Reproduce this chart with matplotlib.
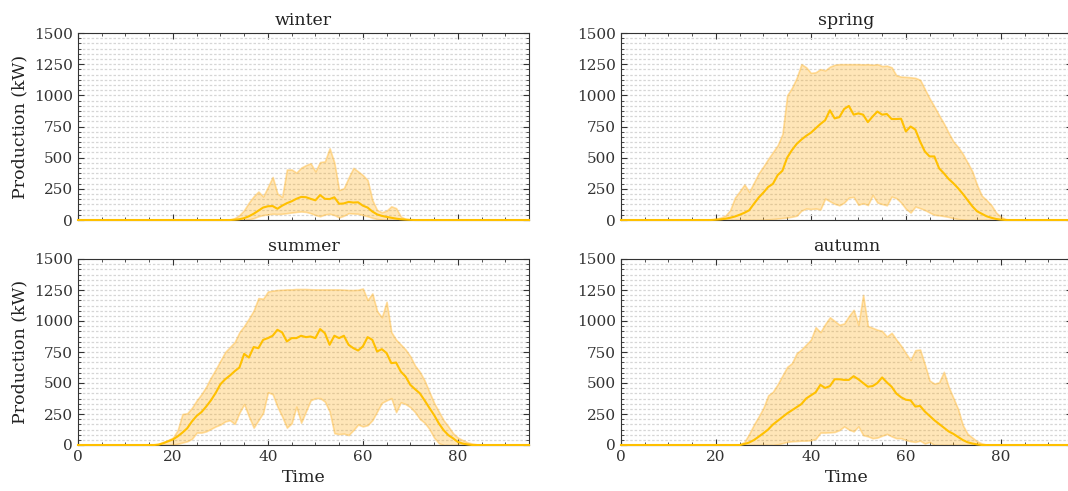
import matplotlib
matplotlib.use('Agg')
import numpy as np
import matplotlib.pyplot as plt
from matplotlib.ticker import MultipleLocator

# 15-minute time steps over one day
time = np.arange(96)
seasons = ['winter', 'spring', 'summer', 'autumn']

# daily production profiles (kW): min / mean / max per season
winter_max = [0, 0, 0, 0, 0, 0, 0, 0, 0, 0, 0, 0, 0, 0, 0, 0, 0, 0, 0, 0,
              0, 0, 0, 0, 0, 0, 0, 0, 0, 0, 0, 0, 3, 15, 40, 80, 140, 190, 228, 188,
              265, 345, 212, 185, 405, 405, 380, 420, 440, 455, 390, 465, 470, 575, 460, 240, 255, 340, 418, 390,
              360, 320, 160, 80, 62, 75, 110, 95, 28, 8, 2, 0, 0, 0, 0, 0, 0, 0, 0, 0,
              0, 0, 0, 0, 0, 0, 0, 0, 0, 0, 0, 0, 0, 0, 0, 0]
winter_mean = [0, 0, 0, 0, 0, 0, 0, 0, 0, 0, 0, 0, 0, 0, 0, 0, 0, 0, 0, 0,
               0, 0, 0, 0, 0, 0, 0, 0, 0, 0, 0, 0, 0, 2, 6, 15, 30, 50, 75, 100,
               110, 112, 90, 115, 135, 150, 170, 185, 183, 170, 158, 200, 170, 168, 182, 130, 133, 145, 140, 142,
               115, 100, 68, 45, 33, 25, 18, 11, 6, 3, 1, 0, 0, 0, 0, 0, 0, 0, 0, 0,
               0, 0, 0, 0, 0, 0, 0, 0, 0, 0, 0, 0, 0, 0, 0, 0]
winter_min = [0, 0, 0, 0, 0, 0, 0, 0, 0, 0, 0, 0, 0, 0, 0, 0, 0, 0, 0, 0,
              0, 0, 0, 0, 0, 0, 0, 0, 0, 0, 0, 0, 0, 0, 0, 0, 5, 15, 30, 40,
              45, 50, 48, 50, 55, 60, 65, 68, 65, 55, 40, 30, 45, 50, 40, 20, 35, 55, 52, 50,
              40, 30, 18, 8, 2, 0, 0, 0, 0, 0, 0, 0, 0, 0, 0, 0, 0, 0, 0, 0,
              0, 0, 0, 0, 0, 0, 0, 0, 0, 0, 0, 0, 0, 0, 0, 0]

spring_max = [0, 0, 0, 0, 0, 0, 0, 0, 0, 0, 0, 0, 0, 0, 0, 0, 0, 0, 0, 3,
              10, 20, 35, 80, 180, 230, 285, 225, 300, 375, 430, 490, 545, 600, 690, 1000, 1060, 1140, 1250, 1225,
              1180, 1185, 1210, 1200, 1230, 1245, 1250, 1250, 1250, 1250, 1250, 1248, 1250, 1245, 1250, 1235, 1238, 1225, 1160, 1150,
              1148, 1145, 1140, 1125, 1050, 975, 910, 840, 775, 700, 630, 585, 530, 460, 390, 280, 195, 160, 120, 60,
              25, 8, 2, 0, 0, 0, 0, 0, 0, 0, 0, 0, 0, 0, 0, 0]
spring_mean = [0, 0, 0, 0, 0, 0, 0, 0, 0, 0, 0, 0, 0, 0, 0, 0, 0, 0, 0, 0,
               2, 5, 10, 18, 28, 42, 58, 78, 130, 180, 220, 265, 290, 360, 395, 500, 560, 610, 645, 675,
               700, 735, 770, 800, 880, 815, 825, 890, 915, 845, 855, 845, 785, 830, 870, 845, 850, 810, 810, 812,
               710, 750, 725, 630, 550, 510, 510, 415, 375, 330, 295, 255, 210, 160, 110, 70, 50, 30, 18, 8,
               3, 0, 0, 0, 0, 0, 0, 0, 0, 0, 0, 0, 0, 0, 0, 0]
spring_min = [0, 0, 0, 0, 0, 0, 0, 0, 0, 0, 0, 0, 0, 0, 0, 0, 0, 0, 0, 0,
              0, 0, 0, 0, 0, 0, 0, 0, 0, 0, 2, 5, 8, 12, 16, 20, 26, 35, 75, 92,
              88, 92, 85, 172, 150, 130, 118, 140, 180, 185, 122, 135, 120, 200, 140, 128, 118, 188, 175, 140,
              90, 60, 108, 95, 80, 60, 42, 38, 32, 25, 15, 8, 3, 0, 0, 0, 0, 0, 0, 0,
              0, 0, 0, 0, 0, 0, 0, 0, 0, 0, 0, 0, 0, 0, 0, 0]

summer_max = [0, 0, 0, 0, 0, 0, 0, 0, 0, 0, 0, 0, 0, 0, 0, 0, 3, 10, 25, 40,
              60, 120, 250, 256, 300, 360, 410, 470, 545, 610, 680, 750, 790, 830, 910, 960, 1020, 1085, 1185, 1180,
              1238, 1245, 1250, 1252, 1255, 1255, 1258, 1258, 1258, 1256, 1255, 1255, 1255, 1255, 1255, 1255, 1253, 1250, 1250, 1252,
              1262, 1170, 1222, 1080, 1030, 1155, 910, 850, 810, 770, 715, 640, 590, 520, 430, 340, 270, 200, 150, 95,
              60, 40, 22, 12, 5, 0, 0, 0, 0, 0, 0, 0, 0, 0, 0, 0]
summer_mean = [0, 0, 0, 0, 0, 0, 0, 0, 0, 0, 0, 0, 0, 0, 0, 0, 0, 3, 15, 30,
               45, 70, 100, 135, 190, 235, 265, 310, 360, 420, 490, 530, 560, 595, 625, 735, 705, 790, 781, 848,
               862, 881, 929, 908, 835, 862, 862, 881, 870, 875, 862, 935, 902, 808, 881, 862, 881, 808, 781, 762,
               795, 870, 848, 754, 773, 741, 660, 665, 592, 552, 485, 450, 417, 360, 300, 242, 175, 120, 80, 54,
               25, 12, 5, 0, 0, 0, 0, 0, 0, 0, 0, 0, 0, 0, 0, 0]
summer_min = [0, 0, 0, 0, 0, 0, 0, 0, 0, 0, 0, 0, 0, 0, 0, 0, 0, 0, 0, 0,
              3, 10, 20, 30, 50, 100, 100, 110, 130, 150, 165, 190, 200, 170, 260, 330, 230, 140, 200, 260,
              425, 410, 310, 230, 140, 175, 310, 180, 270, 360, 378, 378, 350, 270, 95, 88, 92, 80, 120, 165,
              150, 160, 200, 270, 340, 360, 378, 265, 345, 330, 305, 265, 210, 180, 130, 60, 15, 0, 0, 0,
              0, 0, 0, 0, 0, 0, 0, 0, 0, 0, 0, 0, 0, 0, 0, 0]

autumn_max = [0, 0, 0, 0, 0, 0, 0, 0, 0, 0, 0, 0, 0, 0, 0, 0, 0, 0, 0, 0,
              0, 0, 0, 0, 0, 5, 25, 90, 165, 230, 300, 400, 430, 490, 560, 630, 660, 740, 770, 810,
              850, 950, 910, 975, 1030, 1000, 970, 980, 1040, 1090, 970, 1210, 960, 945, 930, 920, 875, 905, 850, 800,
              740, 685, 765, 770, 650, 520, 495, 505, 590, 470, 380, 290, 160, 90, 60, 30, 13, 3, 0, 0,
              0, 0, 0, 0, 0, 0, 0, 0, 0, 0, 0, 0, 0, 0, 0, 0]
autumn_mean = [0, 0, 0, 0, 0, 0, 0, 0, 0, 0, 0, 0, 0, 0, 0, 0, 0, 0, 0, 0,
               0, 0, 0, 0, 0, 0, 8, 20, 40, 67, 95, 125, 165, 195, 225, 255, 280, 305, 330, 375,
               400, 425, 485, 460, 475, 530, 530, 525, 525, 555, 530, 500, 470, 475, 500, 545, 505, 470, 415, 385,
               365, 360, 310, 315, 270, 235, 200, 170, 140, 110, 90, 65, 40, 22, 12, 5, 0, 0, 0, 0,
               0, 0, 0, 0, 0, 0, 0, 0, 0, 0, 0, 0, 0, 0, 0, 0]
autumn_min = [0, 0, 0, 0, 0, 0, 0, 0, 0, 0, 0, 0, 0, 0, 0, 0, 0, 0, 0, 0,
              0, 0, 0, 0, 0, 0, 0, 0, 0, 0, 0, 0, 0, 5, 15, 25, 30, 32, 35, 35,
              38, 50, 100, 100, 102, 105, 120, 150, 125, 110, 150, 80, 70, 55, 60, 75, 90, 70, 55, 55,
              40, 30, 25, 35, 12, 25, 0, 0, 0, 0, 0, 0, 0, 0, 0, 0, 0, 0, 0, 0,
              0, 0, 0, 0, 0, 0, 0, 0, 0, 0, 0, 0, 0, 0, 0, 0]

lows = [winter_min, spring_min, summer_min, autumn_min]
means = [winter_mean, spring_mean, summer_mean, autumn_mean]
highs = [winter_max, spring_max, summer_max, autumn_max]

plt.rcParams['font.family'] = 'DejaVu Serif'
plt.rcParams['axes.edgecolor'] = '#333333'

fig = plt.figure(figsize=(10.68, 4.91), dpi=100)
W, H = 1068.0, 491.0
# axes boxes in pixels: left, top, right, bottom
boxes = [(78, 33, 529, 220), (621, 33, 1072, 220),
         (78, 259, 529, 445), (621, 259, 1072, 445)]

for i, name in enumerate(seasons):
    l, t, r, b = boxes[i]
    ax = fig.add_axes([l / W, 1 - b / H, (r - l) / W, (b - t) / H])
    ax.fill_between(time, lows[i], highs[i], facecolor=(1.0, 0.65, 0.0, 0.28),
                    edgecolor=(1.0, 0.72, 0.2, 0.45), lw=1.2)
    ax.plot(time, means[i], color='#FFC000', lw=1.5, clip_on=False, zorder=3)

    ax.set_xlim(0, 95)
    ax.set_ylim(0, 1500)
    ax.xaxis.set_major_locator(MultipleLocator(20))
    ax.xaxis.set_minor_locator(MultipleLocator(5))
    ax.yaxis.set_major_locator(MultipleLocator(250))
    ax.yaxis.set_minor_locator(MultipleLocator(250 / 6))
    ax.tick_params(which='both', direction='in', top=True, right=True,
                   labelsize=11, colors='#333333')
    ax.tick_params(which='major', length=4)
    ax.tick_params(which='minor', length=2)
    ax.yaxis.grid(True, which='both', ls=(0, (2, 1.5)), color='#d6d6d6', lw=0.9)
    ax.set_axisbelow(True)
    ax.set_title(name, fontsize=12.5, color='#222222')

    if i < 2:
        ax.tick_params(labelbottom=False)
    else:
        ax.set_xlabel('Time', fontsize=12.5, color='#222222')
    if i % 2 == 0:
        ax.set_ylabel('Production (kW)', fontsize=12.5, color='#222222')

fig.savefig('out.png', dpi=100)
